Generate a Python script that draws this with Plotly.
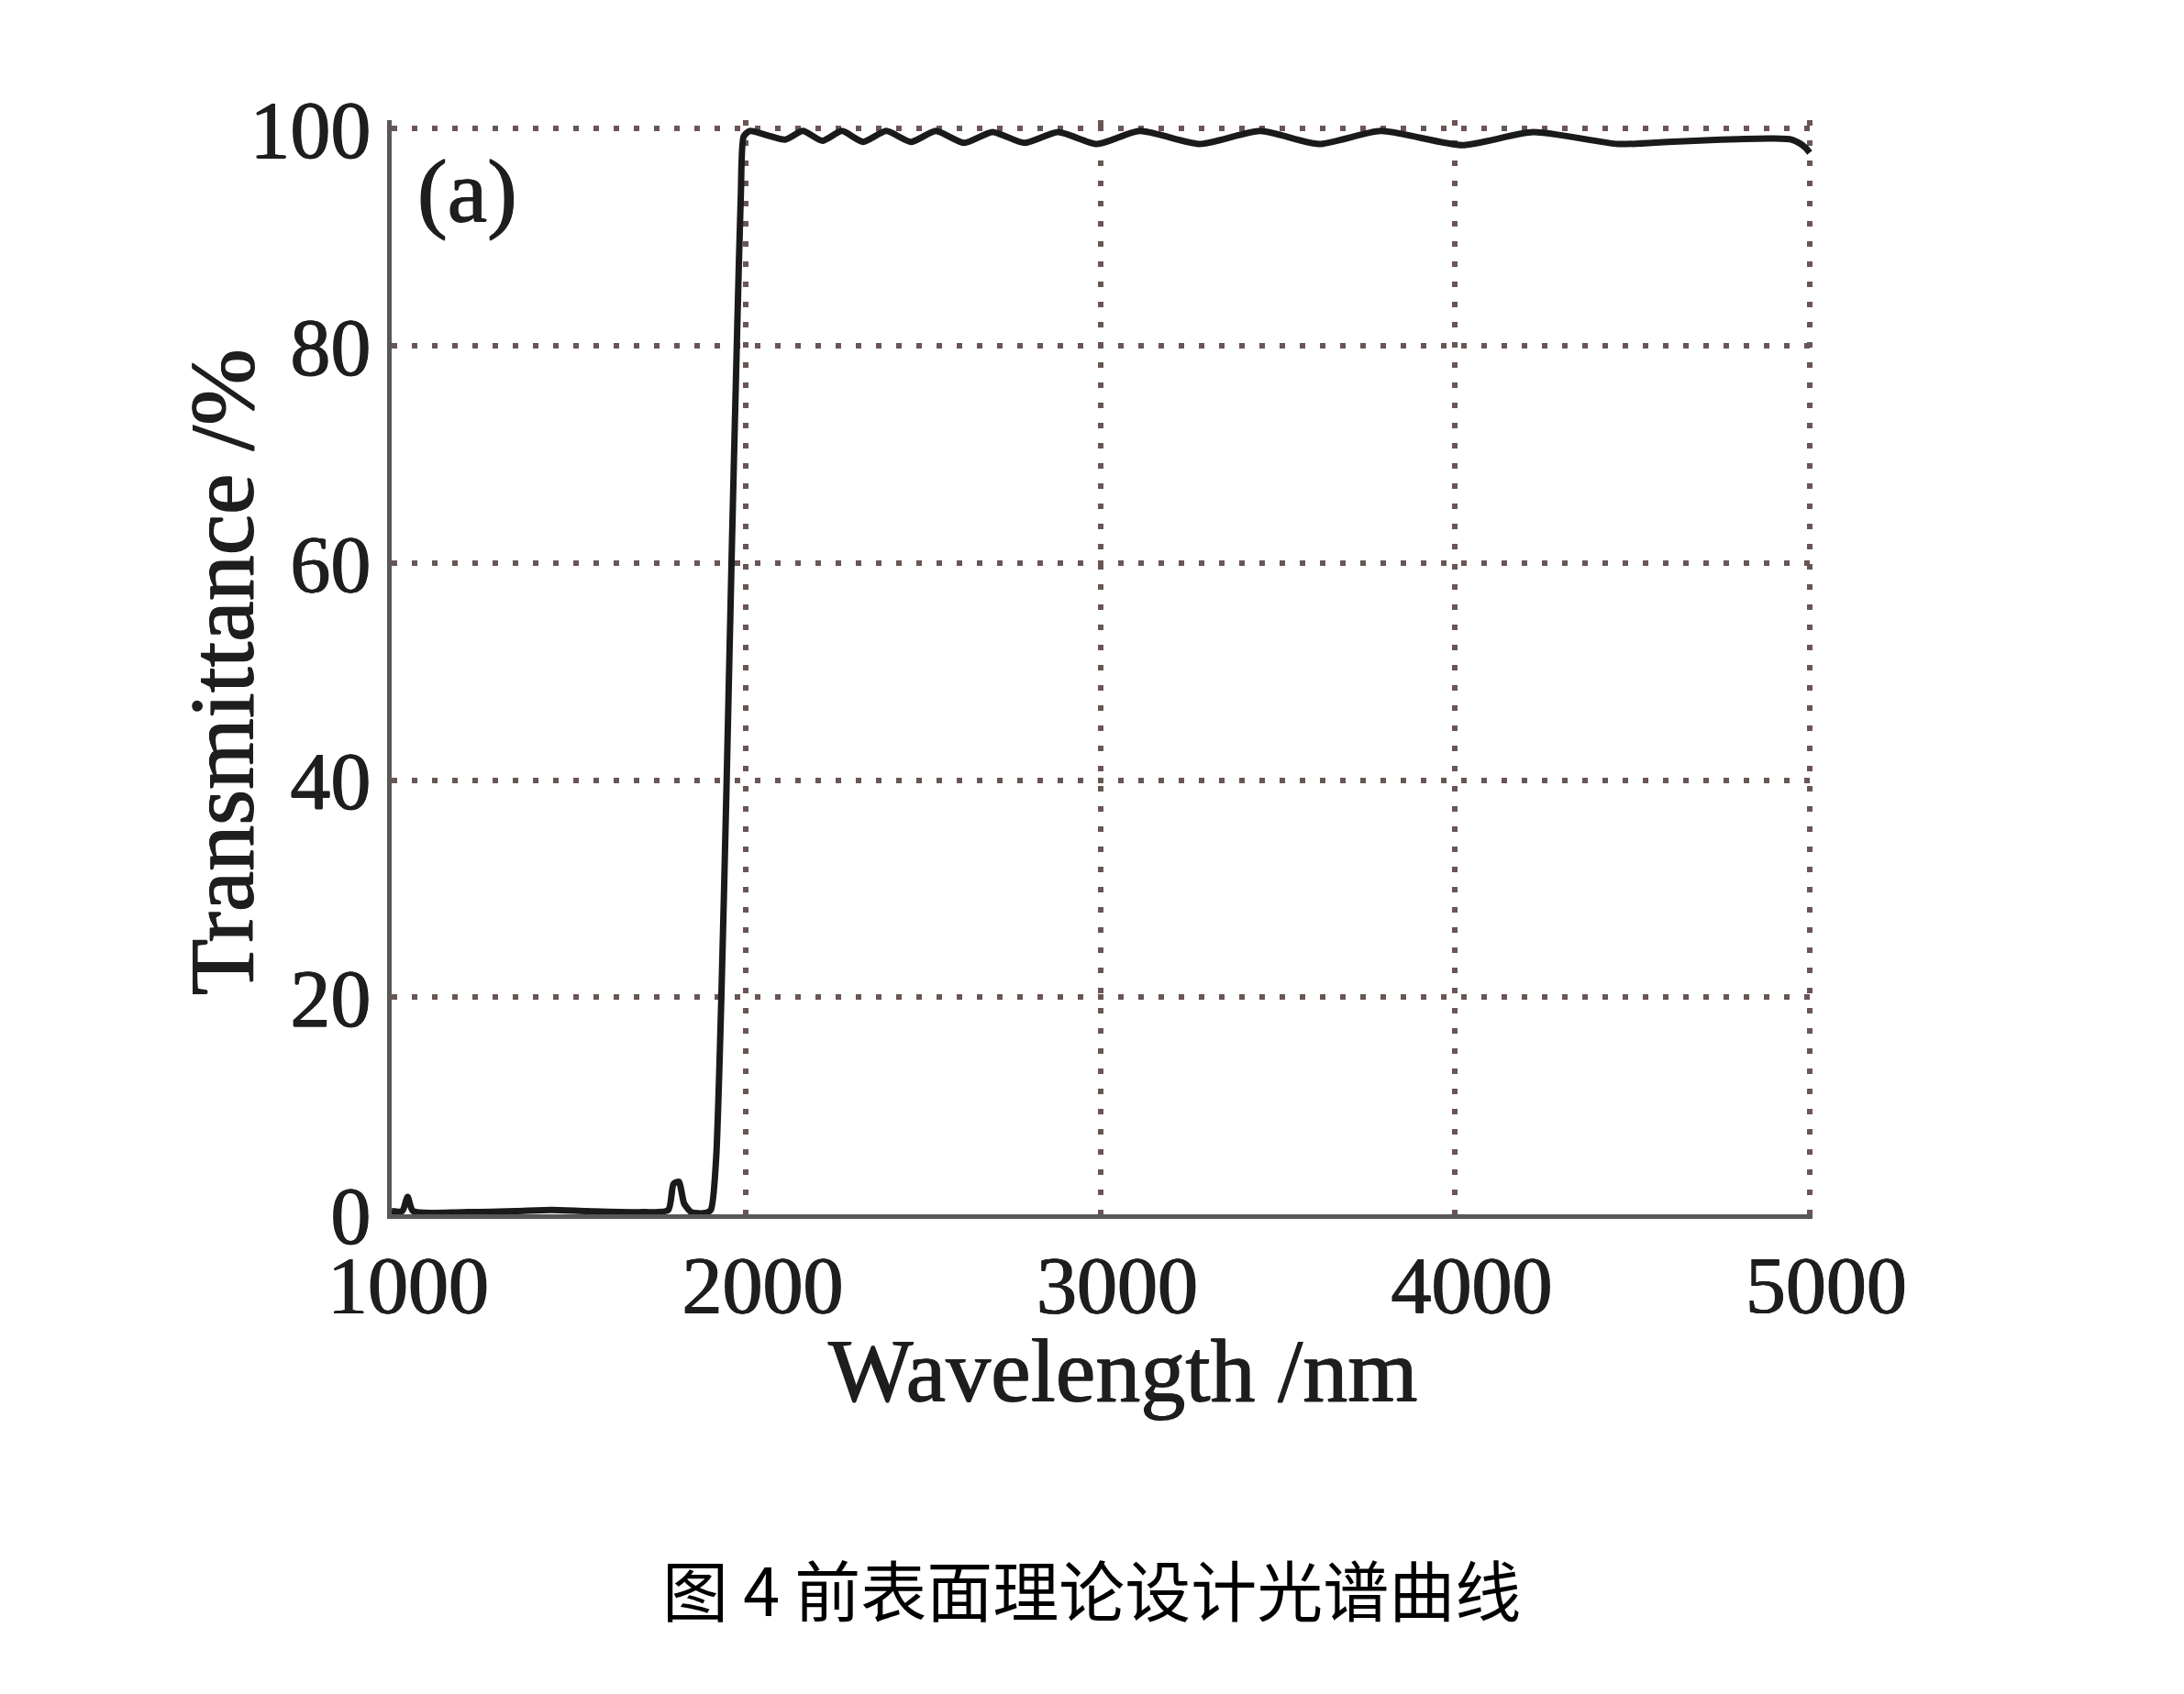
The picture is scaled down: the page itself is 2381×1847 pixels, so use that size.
import plotly.graph_objects as go

# transmittance curve (nm, %)
wavelength = [1000, 1030, 1045, 1060, 1200, 1350, 1450, 1550, 1700, 1780, 1795, 1810, 1825, 1845,
              1880, 1900, 1915, 1930, 1945, 1960, 1975, 1985, 1993, 2010,
              2060, 2110, 2160, 2215, 2270, 2330, 2395, 2465, 2535, 2615, 2695, 2785,
              2880, 2990, 3110, 3280, 3450, 3615, 3790, 4020, 4220, 4460,
              4600, 4750, 4900, 4950, 4975, 4990, 5000]
transmittance = [0.3, 0.3, 1.6, 0.3, 0.2, 0.3, 0.4, 0.3, 0.2, 0.4, 2.8, 3.0, 1.0, 0.2,
                 0.1, 0.4, 5.0, 20.0, 40.0, 62.0, 82.0, 94.0, 99.3, 99.8,
                 99.4, 99.0, 99.8, 98.9, 99.8, 98.8, 99.8, 98.8, 99.8, 98.7, 99.7, 98.7,
                 99.7, 98.6, 99.8, 98.6, 99.8, 98.6, 99.8, 98.5, 99.7, 98.6,
                 98.8, 99.0, 99.1, 99.0, 98.6, 98.2, 97.8]

x_ticks = [1000, 2000, 3000, 4000, 5000]
y_ticks = [0, 20, 40, 60, 80, 100]

serif = "Liberation Serif"
ink = "#1e1e1e"
heavy = "0.7px 0 0 #1e1e1e, -0.7px 0 0 #1e1e1e, 0 0.7px 0 #1e1e1e"
grid_color = "#6a5555"

W, H = 2381, 1847
left, right, top, bottom = 419, 1968, 123, 1316   # plot area in pixels
pw, ph = right - left, bottom - top


def px(x):
    return (x - left) / pw


def py(y):
    return (bottom - y) / ph


fig = go.Figure()
fig.add_trace(go.Scatter(x=wavelength, y=transmittance, mode="lines",
                         line=dict(color="#1a1a1a", width=7, shape="spline", smoothing=0.6),
                         showlegend=False, hoverinfo="skip"))

fig.update_xaxes(range=[1000, 5008], tickvals=x_ticks, showgrid=True, gridcolor=grid_color,
                 gridwidth=6, griddash="6px,16px", showline=True, linecolor="#585858", linewidth=5,
                 ticks="", zeroline=False, ticklabelstandoff=-4, ticklabelshift=18,
                 tickfont=dict(family=serif, size=88, color=ink, shadow=heavy))
fig.update_yaxes(range=[0, 100.8], tickvals=y_ticks, showgrid=True, gridcolor=grid_color,
                 gridwidth=6, griddash="6px,16px", showline=True, linecolor="#585858", linewidth=5,
                 ticks="", zeroline=False, ticklabelstandoff=0,
                 tickfont=dict(family=serif, size=88, color=ink, shadow=heavy))

# axis titles
fig.add_annotation(text="Wavelength /nm", x=px(1216), y=py(1486), xref="paper", yref="paper",
                   xanchor="center", yanchor="middle", showarrow=False,
                   font=dict(family=serif, size=98, color=ink, shadow=heavy))
fig.add_annotation(text="Transmittance /%", x=px(233), y=py(725), xref="paper", yref="paper",
                   xanchor="center", yanchor="middle", showarrow=False, textangle=-90,
                   font=dict(family=serif, size=100, color=ink, shadow=heavy))
# panel label
fig.add_annotation(text="(a)", x=px(501), y=py(200), xref="paper", yref="paper",
                   xanchor="center", yanchor="middle", showarrow=False,
                   font=dict(family=serif, size=98, color=ink, shadow=heavy))
# caption
fig.add_annotation(text="图 4 前表面理论设计光谱曲线", x=px(1182), y=py(1722), xref="paper",
                   yref="paper", xanchor="center", yanchor="middle", showarrow=False,
                   font=dict(family="Noto Sans CJK SC", size=72, color="#000000"))

fig.update_layout(width=W, height=H, margin=dict(l=left, r=W - right, t=top, b=H - bottom),
                  paper_bgcolor="white", plot_bgcolor="white")

fig.write_html("out.html")
